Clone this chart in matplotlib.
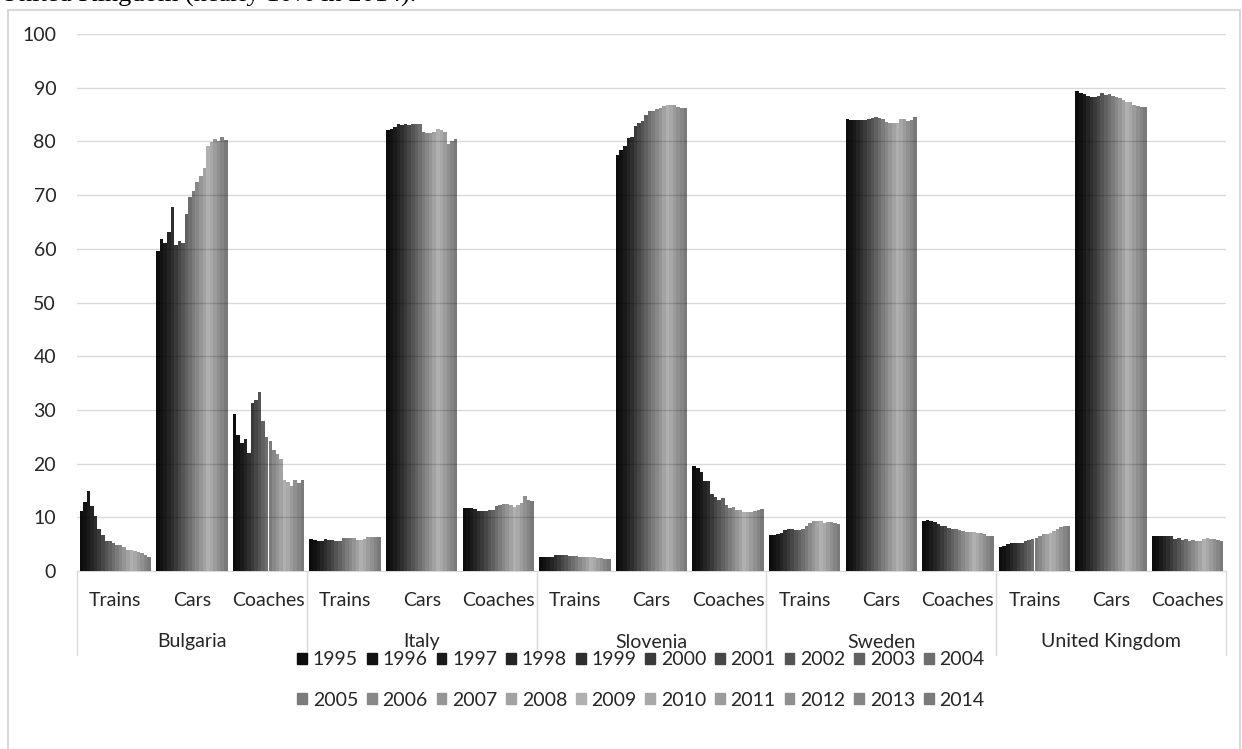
import numpy as np
import matplotlib.pyplot as plt
from matplotlib.patches import Rectangle
from matplotlib.lines import Line2D

plt.rcParams["font.family"] = ["Lato", "DejaVu Sans"]

W_PX, H_PX = 1242, 749

years = ["1995", "1996", "1997", "1998", "1999", "2000", "2001", "2002", "2003", "2004",
         "2005", "2006", "2007", "2008", "2009", "2010", "2011", "2012", "2013", "2014"]
countries = ["Bulgaria", "Italy", "Slovenia", "Sweden", "United Kingdom"]
modes = ["Trains", "Cars", "Coaches"]

# modal share (%) per year
bulgaria_trains = [11.2, 12.8, 14.9, 12.1, 10.2, 7.9, 6.7, 5.6, 5.6, 5.3,
                   4.8, 4.8, 4.5, 4.0, 4.0, 3.7, 3.6, 3.3, 3.0, 2.7]
bulgaria_cars = [59.5, 61.8, 61.0, 63.2, 67.7, 60.7, 61.5, 61.1, 66.4, 69.7,
                 70.8, 72.4, 73.6, 75.0, 79.2, 79.8, 80.4, 80.1, 80.8, 80.2]
bulgaria_coaches = [29.2, 25.3, 23.9, 24.5, 21.9, 31.3, 31.9, 33.3, 27.9, 25.0,
                    24.3, 22.6, 21.7, 20.8, 16.9, 16.5, 15.9, 16.9, 16.4, 17.0]

italy_trains = [5.9, 5.8, 5.5, 5.6, 5.9, 5.8, 5.7, 5.6, 5.6, 6.1,
                6.1, 6.1, 6.1, 5.7, 5.8, 6.0, 6.4, 6.3, 6.3, 6.3]
italy_cars = [82.2, 82.4, 82.6, 83.2, 83.0, 83.2, 83.1, 83.2, 83.2, 83.2,
              81.7, 81.5, 81.5, 81.7, 82.4, 82.2, 81.7, 79.5, 80.1, 80.5]
italy_coaches = [11.8, 11.8, 11.8, 11.5, 11.1, 11.2, 11.2, 11.3, 11.3, 12.1,
                 12.3, 12.4, 12.4, 12.3, 11.9, 12.2, 12.6, 13.9, 13.3, 13.1]

slovenia_trains = [2.7, 2.7, 2.6, 2.7, 2.9, 2.9, 2.9, 2.9, 2.8, 2.8,
                   2.8, 2.7, 2.7, 2.6, 2.6, 2.6, 2.5, 2.4, 2.3, 2.2]
slovenia_cars = [77.5, 78.4, 79.1, 80.7, 80.8, 82.9, 83.5, 83.8, 84.9, 85.6,
                 85.7, 86.1, 86.3, 86.6, 86.8, 86.8, 86.7, 86.4, 86.3, 86.3]
slovenia_coaches = [19.5, 19.2, 18.4, 16.7, 16.7, 14.4, 13.8, 13.3, 13.6, 12.3,
                    11.7, 11.9, 11.4, 11.3, 11.0, 10.9, 10.9, 11.1, 11.4, 11.6]

sweden_trains = [6.7, 6.7, 6.8, 7.1, 7.6, 7.9, 7.8, 7.6, 7.6, 7.9,
                 8.4, 8.9, 9.4, 9.4, 9.3, 8.9, 9.1, 9.2, 9.0, 8.7]
sweden_cars = [84.1, 84.0, 84.0, 84.0, 83.9, 83.9, 84.1, 84.4, 84.6, 84.4,
               84.1, 83.7, 83.4, 83.4, 83.4, 84.2, 84.2, 83.8, 83.9, 84.6]
sweden_coaches = [9.3, 9.5, 9.4, 9.1, 8.8, 8.4, 8.3, 8.1, 7.9, 7.8,
                  7.6, 7.5, 7.3, 7.2, 7.2, 7.0, 7.0, 6.8, 6.6, 6.5]

uk_trains = [4.4, 4.7, 5.0, 5.2, 5.3, 5.3, 5.3, 5.5, 5.7, 6.0,
             6.2, 6.5, 6.8, 6.9, 7.0, 7.4, 7.9, 8.2, 8.4, 8.4]
uk_cars = [89.3, 89.1, 88.8, 88.5, 88.2, 88.2, 88.4, 89.1, 88.7, 88.8,
           88.5, 88.3, 88.1, 87.8, 87.4, 87.3, 86.7, 86.5, 86.4, 86.4]
uk_coaches = [6.5, 6.5, 6.5, 6.5, 6.5, 6.6, 6.0, 6.1, 5.8, 5.9,
              5.6, 5.7, 5.6, 5.6, 5.9, 6.1, 6.0, 5.9, 5.8, 5.5]

year_colors = ["#0d0d0d", "#121212", "#1a1a1a", "#242424", "#2e2e2e",
               "#3a3a3a", "#474747", "#545454", "#616161", "#6e6e6e",
               "#7b7b7b", "#888888", "#959595", "#a2a2a2", "#b0b0b0",
               "#a8a8a8", "#9c9c9c", "#909090", "#858585", "#7a7a7a"]

series = np.array([bulgaria_trains, bulgaria_cars, bulgaria_coaches,
                   italy_trains, italy_cars, italy_coaches,
                   slovenia_trains, slovenia_cars, slovenia_coaches,
                   sweden_trains, sweden_cars, sweden_coaches,
                   uk_trains, uk_cars, uk_coaches])
n_cat, n_years = series.shape

text_col = "#262626"
grid_col = "#d9d9d9"
fs = 14

fig = plt.figure(figsize=(W_PX / 100, H_PX / 100), dpi=100)
x0, x1, y0, y1 = 77, 1226, 571, 34
ax = fig.add_axes([x0 / W_PX, 1 - y0 / H_PX, (x1 - x0) / W_PX, (y0 - y1) / H_PX])

group_w = 0.93
bar_w = group_w / n_years
cat_x = np.arange(n_cat)
for j in range(n_years):
    xs = cat_x - group_w / 2 + bar_w * (j + 0.5)
    ax.bar(xs, series[:, j], width=bar_w, color=year_colors[j], linewidth=0,
           antialiased=False, zorder=2)

# gridlines sit on top of the bars in the original
for v in range(10, 101, 10):
    ax.axhline(v, color="black", alpha=0.15, lw=1, zorder=3)

ax.set_xlim(-0.5, n_cat - 0.5)
ax.set_ylim(0, 100)
ax.set_yticks(range(0, 101, 10))
ax.tick_params(axis="y", length=0, pad=15, labelsize=fs, labelcolor=text_col)
ax.set_xticks(cat_x)
ax.set_xticklabels(modes * len(countries))
ax.tick_params(axis="x", length=0, pad=15, labelsize=fs, labelcolor=text_col)
for s in ["top", "right", "left"]:
    ax.spines[s].set_visible(False)
ax.spines["bottom"].set_color(grid_col)
ax.spines["bottom"].set_zorder(1)

# second level of the category axis
sep_bottom = (y0 - 655) / (y0 - y1)
lab_y = (y0 - 642) / (y0 - y1)
tr = ax.get_xaxis_transform()
for k, c in enumerate(countries):
    ax.text(3 * k + 1, lab_y, c, transform=tr, ha="center", va="center",
            fontsize=fs, color=text_col)
for b in range(len(countries) + 1):
    ax.add_line(Line2D([3 * b - 0.5] * 2, [0, sep_bottom], transform=tr,
                       color=grid_col, lw=1, clip_on=False))

# legend filled row by row (matplotlib fills columns first)
ncol = 10
order = [r * ncol + c for c in range(ncol) for r in range(2)]
handles = [Rectangle((0, 0), 1, 1, color=year_colors[i]) for i in order]
labels = [years[i] for i in order]
fig.legend(handles, labels, ncol=ncol, loc="center",
           bbox_to_anchor=(641 / W_PX, 1 - 680 / H_PX), frameon=False,
           fontsize=fs, handlelength=0.5, handleheight=0.5,
           handletextpad=0.3, columnspacing=0.45, labelspacing=1.2,
           labelcolor=text_col)

# chart frame and the clipped caption line above it
fig.patches.append(Rectangle((8 / W_PX, -0.1), 1232 / W_PX, 1.1 - 10 / H_PX,
                             transform=fig.transFigure, fill=False,
                             edgecolor=grid_col, lw=1.5))
fig.text(0.0, 1 - 2 / H_PX, "United Kingdom (nearly 10% in 2014).",
         family=["Liberation Serif"], fontsize=19, va="baseline", ha="left",
         color="black")

fig.savefig("out.png", dpi=100)
